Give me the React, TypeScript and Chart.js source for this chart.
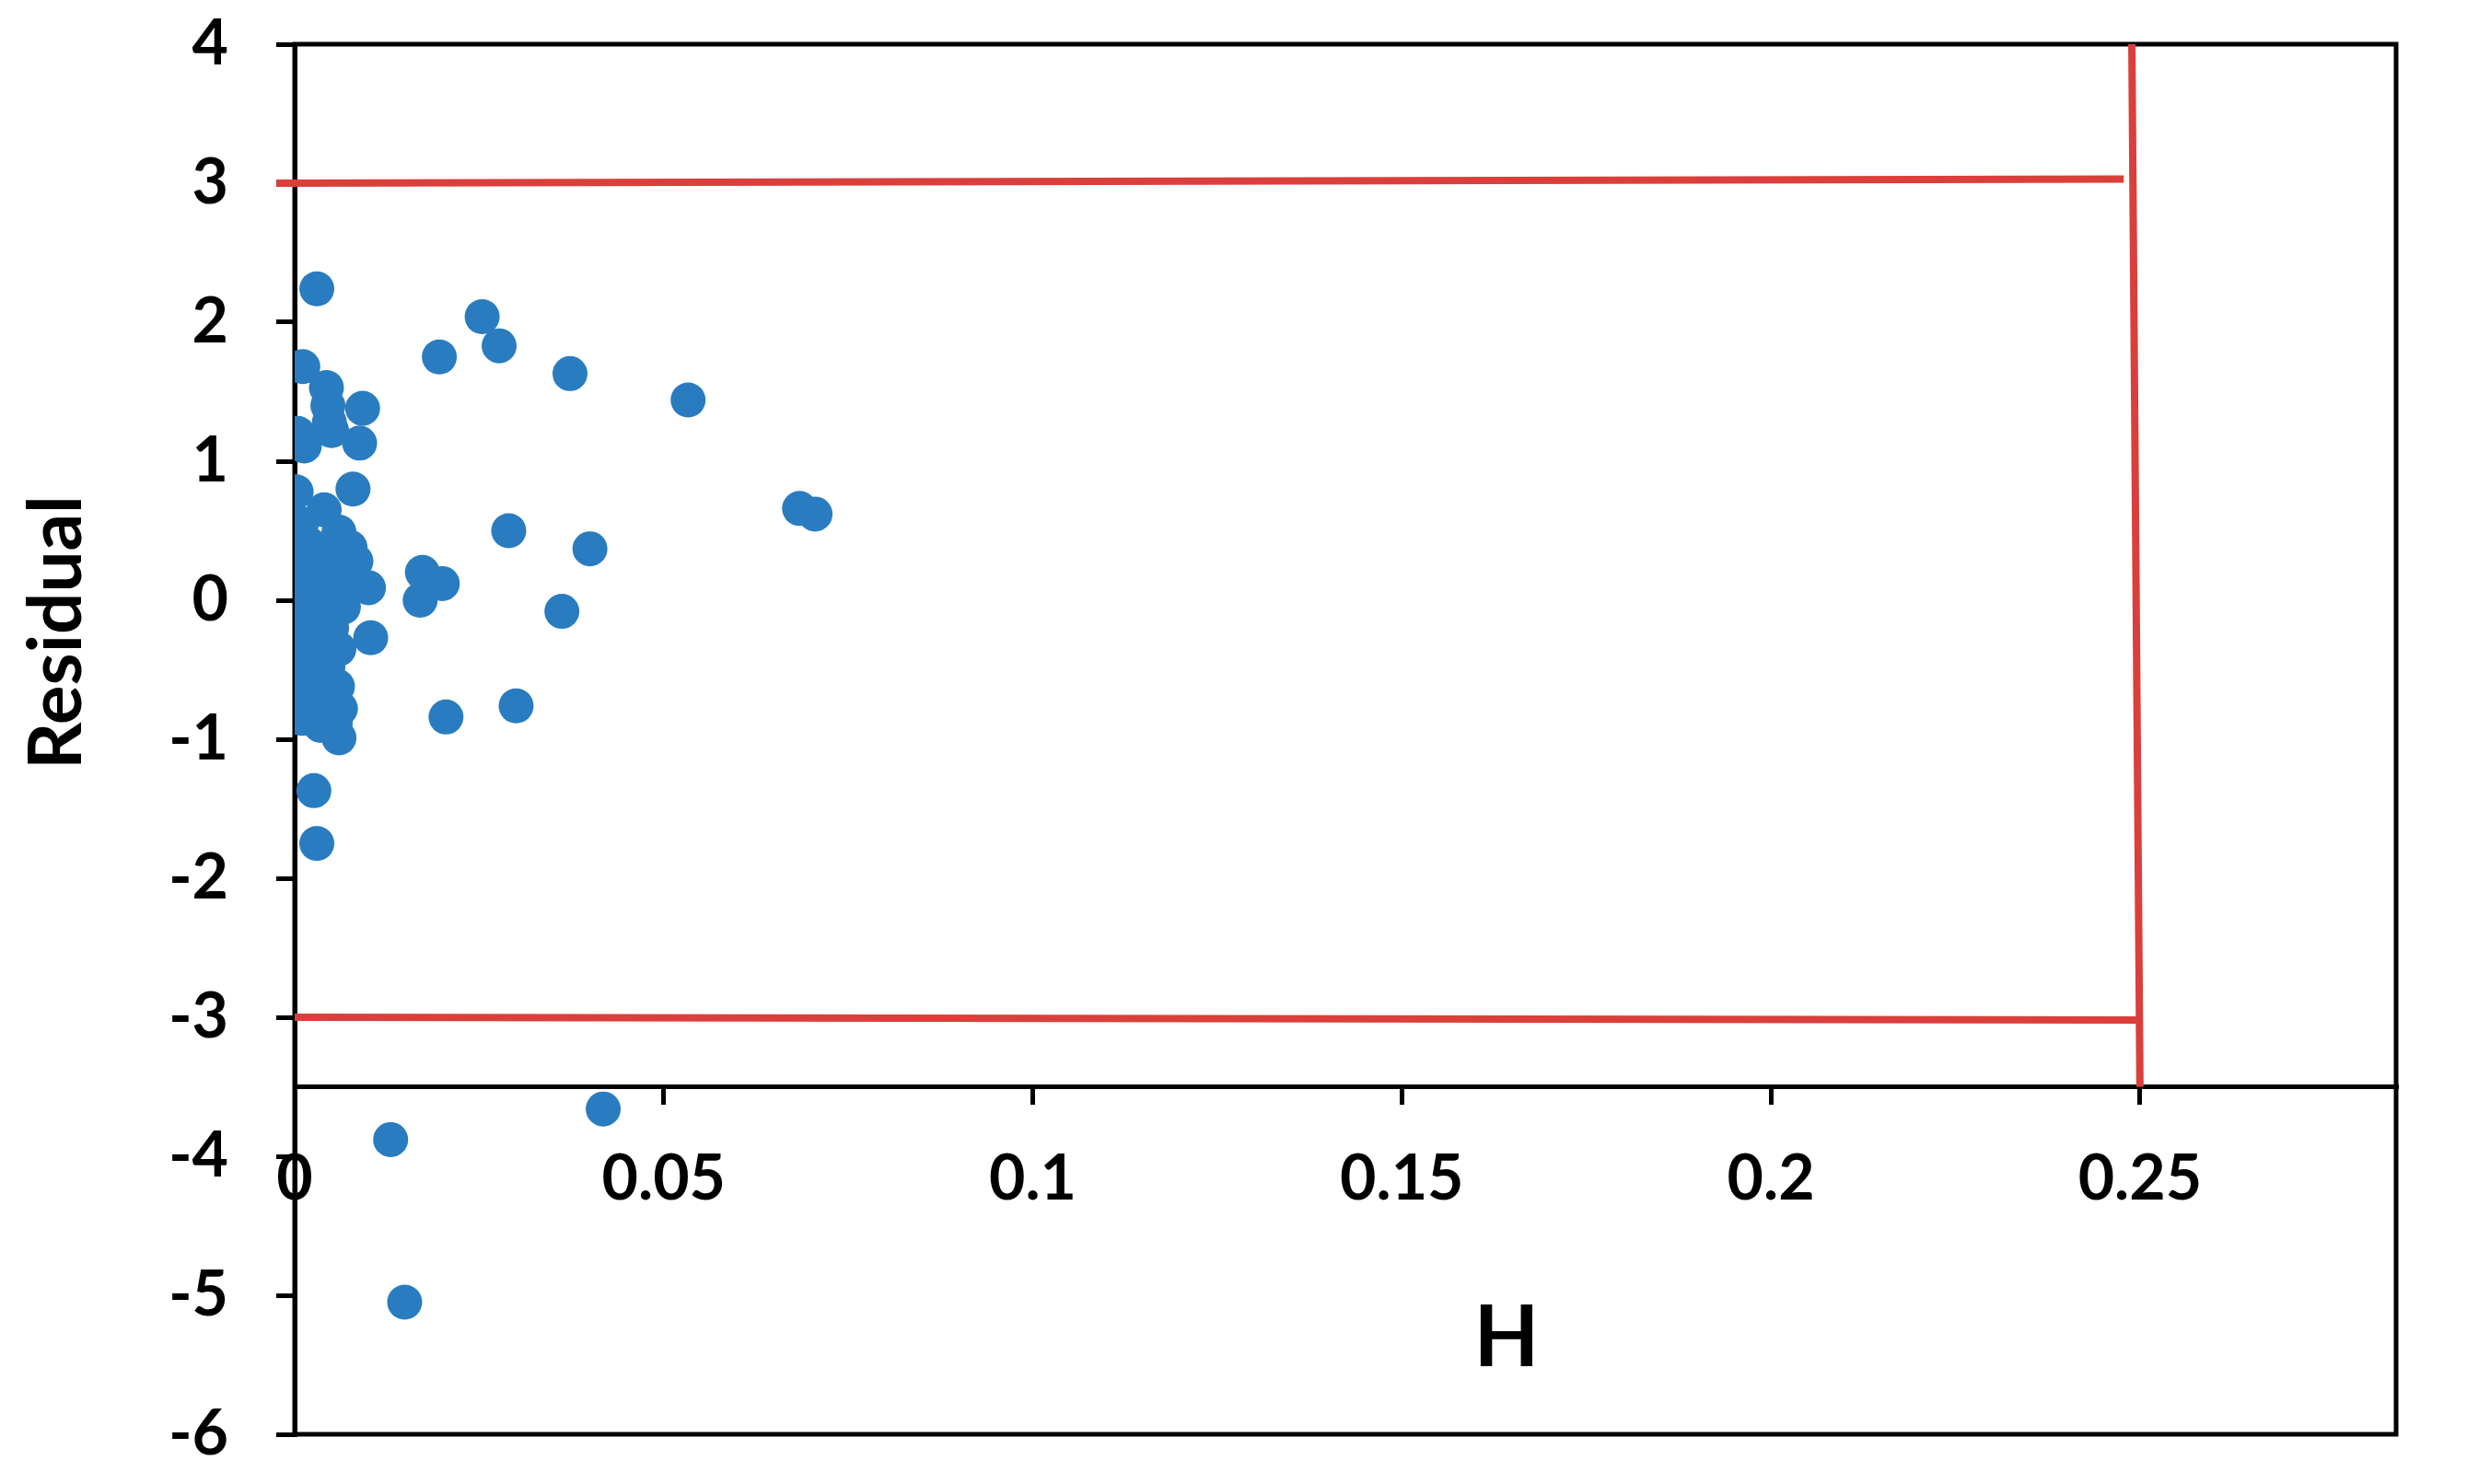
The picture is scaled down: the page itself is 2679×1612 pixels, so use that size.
import React, { useEffect, useRef } from "react";
import { Chart, registerables } from "chart.js";

Chart.register(...registerables);

// Leverage (H) of each observation
const leverageH = [
  0.003, 0.0254, 0.0277, 0.0196, 0.0373, 0.0533, 0.0011, 0.0043, 0.0092, 0.0088,
  0.0004, 0.0013, 0.0047, 0.0045, 0.005, 0.0002, 0.0079, 0.004, 0.0684, 0.0705,
  0.029, 0.04, 0.0173, 0.02, 0.017, 0.0362, 0.0205, 0.03, 0.01, 0.0103,
  0.006, 0.0026, 0.003, 0.013, 0.0418, 0.0149,
  0.0009, 0.006, 0.002, 0.0075, 0.0005, 0.0035, 0.006, 0.0083, 0.001, 0.0045,
  0.007, 0.0, 0.0025, 0.0055, 0.0003, 0.0035, 0.0066, 0.0015, 0.005, 0.0003,
  0.003, 0.006, 0.0015, 0.0045, 0.0, 0.003, 0.0058, 0.0012, 0.0045, 0.0062,
  0.001, 0.0035, 0.0055,
];

// Standardized residual of each observation
const residual = [
  2.24, 2.04, 1.83, 1.75, 1.63, 1.44, 1.68, 1.53, 1.38, 1.13,
  1.2, 1.11, 1.28, 1.4, 1.22, 0.78, 0.8, 0.65, 0.66, 0.62,
  0.5, 0.37, 0.2, 0.12, 0.0, -0.08, -0.84, -0.76, 0.09, -0.27,
  -0.99, -1.37, -1.75, -3.88, -3.66, -5.05,
  0.55, 0.49, 0.4, 0.38, 0.28, 0.3, 0.3, 0.28, 0.15, 0.18,
  0.14, 0.05, 0.06, 0.03, -0.06, -0.08, -0.05, -0.18, -0.2, -0.3,
  -0.32, -0.35, -0.45, -0.48, -0.58, -0.6, -0.62, -0.72, -0.75, -0.78,
  -0.85, -0.9, -0.88,
];

const xTickValues = [0, 0.05, 0.1, 0.15, 0.2, 0.25];
const xTickLabels = ["0", "0.05", "0.1", "0.15", "0.2", "0.25"];
const yTickValues = [-6, -5, -4, -3, -2, -1, 0, 1, 2, 3, 4];
const yTickLabels = ["-6", "-5", "-4", "-3", "-2", "-1", "0", "1", "2", "3", "4"];

const upperLimitX = [-0.0025, 0.2478];
const upperLimitY = [3.0, 3.03];
const lowerLimitX = [0, 0.2495];
const lowerLimitY = [-3.0, -3.02];
const leverageLimitX = [0.2489, 0.25];
const leverageLimitY = [4, -3.5];

const xAxisTitle = "H";
const yAxisTitle = "Residual";

const X_MIN = 0;
const X_MAX = 0.2847;
const Y_MIN = -6;
const Y_MAX = 4;
const X_AXIS_CROSS = -3.5;

const FONT = "Lato, 'Open Sans', 'DejaVu Sans', sans-serif";
const POINT_COLOR = "#2A7CC0";
const LIMIT_COLOR = "#DA3F3C";

const toPoints = (xs: number[], ys: number[]) => xs.map((x, i) => ({ x, y: ys[i] }));

const frameAndTitles = {
  id: "frameAndTitles",
  beforeDatasetsDraw(chart: any) {
    const { ctx, chartArea } = chart;
    ctx.save();
    ctx.strokeStyle = "#000";
    ctx.lineWidth = 5;
    ctx.strokeRect(chartArea.left, chartArea.top, chartArea.right - chartArea.left, chartArea.bottom - chartArea.top);
    ctx.restore();
  },
  afterDraw(chart: any) {
    const { ctx } = chart;
    ctx.save();
    ctx.fillStyle = "#000";
    ctx.textAlign = "center";
    ctx.textBaseline = "middle";
    ctx.font = `bold 80px ${FONT}`;
    ctx.translate(62, 687);
    ctx.rotate(-Math.PI / 2);
    ctx.fillText(yAxisTitle, 0, 0);
    ctx.restore();
    ctx.save();
    ctx.fillStyle = "#000";
    ctx.textAlign = "center";
    ctx.textBaseline = "middle";
    ctx.font = `bold 92px ${FONT}`;
    ctx.fillText(xAxisTitle, 1636, 1454);
    ctx.restore();
  },
};

export default function App() {
  const canvasRef = useRef<HTMLCanvasElement | null>(null);

  useEffect(() => {
    document.body.style.margin = "0";
    const canvas = canvasRef.current;
    if (!canvas) return;
    const chart = new Chart(canvas, {
      type: "scatter",
      data: {
        datasets: [
          {
            label: "Residual",
            data: toPoints(leverageH, residual),
            backgroundColor: POINT_COLOR,
            borderWidth: 0,
            pointRadius: 19,
            pointHoverRadius: 19,
          },
          {
            label: "upper",
            data: toPoints(upperLimitX, upperLimitY),
            showLine: true,
            borderColor: LIMIT_COLOR,
            borderWidth: 8,
            pointRadius: 0,
            clip: false,
          } as any,
          {
            label: "lower",
            data: toPoints(lowerLimitX, lowerLimitY),
            showLine: true,
            borderColor: LIMIT_COLOR,
            borderWidth: 8,
            pointRadius: 0,
            clip: false,
          } as any,
          {
            label: "leverage",
            data: toPoints(leverageLimitX, leverageLimitY),
            showLine: true,
            borderColor: LIMIT_COLOR,
            borderWidth: 8,
            pointRadius: 0,
            clip: false,
          } as any,
        ],
      },
      options: {
        responsive: false,
        animation: false,
        devicePixelRatio: 1,
        layout: { padding: { left: 0, top: 48, right: 77, bottom: 54 } },
        plugins: {
          legend: { display: false },
          tooltip: { enabled: false },
        },
        scales: {
          x: {
            type: "linear",
            min: X_MIN,
            max: X_MAX,
            position: { y: X_AXIS_CROSS } as any,
            afterBuildTicks: (scale: any) => {
              scale.ticks = xTickValues.map((v) => ({ value: v }));
            },
            afterFit: (scale: any) => {
              scale.paddingLeft = 0;
              scale.paddingRight = 0;
            },
            ticks: {
              padding: 43,
              color: "#000",
              font: { family: FONT, size: 68, weight: "bold" },
              maxRotation: 0,
              autoSkip: false,
              callback: (value: any) => {
                const i = xTickValues.findIndex((v) => Math.abs(v - Number(value)) < 1e-9);
                return i >= 0 ? xTickLabels[i] : "";
              },
            },
            grid: {
              display: true,
              drawOnChartArea: false,
              drawTicks: true,
              tickLength: 17,
              color: "#000",
              lineWidth: 5,
            },
            border: { display: true, color: "#000", width: 5 },
          },
          y: {
            type: "linear",
            min: Y_MIN,
            max: Y_MAX,
            position: "left",
            afterBuildTicks: (scale: any) => {
              scale.ticks = yTickValues.map((v) => ({ value: v }));
            },
            afterFit: (scale: any) => {
              scale.width = 320;
              scale.paddingTop = 0;
              scale.paddingBottom = 0;
            },
            ticks: {
              padding: 52,
              color: "#000",
              font: { family: FONT, size: 68, weight: "bold" },
              autoSkip: false,
              callback: (value: any) => {
                const i = yTickValues.findIndex((v) => Math.abs(v - Number(value)) < 1e-9);
                return i >= 0 ? yTickLabels[i] : "";
              },
            },
            grid: {
              display: true,
              drawOnChartArea: false,
              drawTicks: true,
              tickLength: 20,
              color: "#000",
              lineWidth: 5,
            },
            border: { display: true, color: "#000", width: 5 },
          },
        },
      },
      plugins: [frameAndTitles],
    });
    return () => chart.destroy();
  }, []);

  return (
    <div style={{ width: 2679, height: 1612, background: "#fff" }}>
      <canvas ref={canvasRef} width={2679} height={1612} style={{ width: 2679, height: 1612, display: "block" }} />
    </div>
  );
}
